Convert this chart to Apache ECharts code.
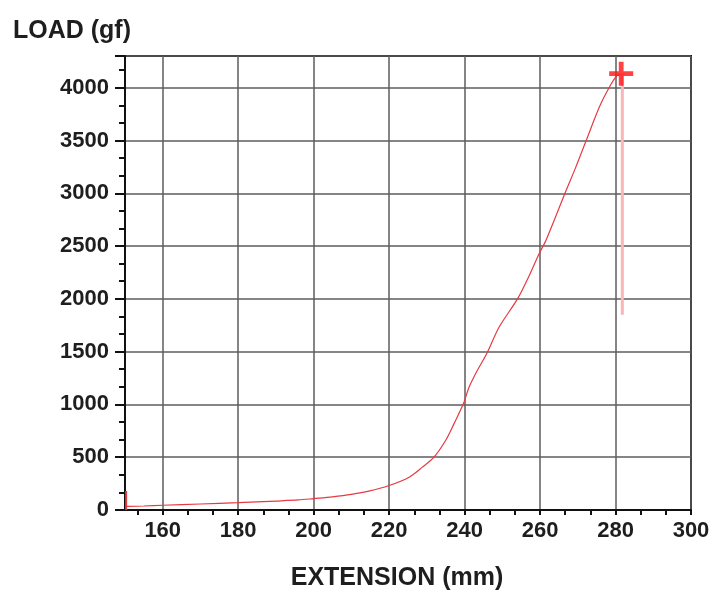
<!DOCTYPE html>
<html>
<head>
<meta charset="utf-8">
<script src="https://cdn.jsdelivr.net/npm/echarts@6/dist/echarts.min.js"></script>
<style>
    html, body { margin: 0; padding: 0; background: #fff; }
    #chart { width: 713px; height: 592px; }
</style>
</head>
<body>
<div id="chart"></div>
<script>
// extension (mm) / load (gf)
var extension = [150.4, 155, 160, 170, 180, 190, 196, 200, 205, 210, 214.6, 220, 225.3, 228.8,
    231.9, 235, 237.2, 239.7, 241.2, 243.4, 245.7, 249.2, 254.1, 257, 259.8, 261.6, 266.5, 269.5,
    272.3, 275.8, 278.5, 280.2, 281.3];
var load = [35, 38, 45, 57, 70, 85, 95, 108, 125, 148, 178, 232, 311, 406,
    501, 660, 818, 1008, 1165, 1324, 1470, 1735, 2004, 2210, 2431, 2558, 2991, 3250,
    3507, 3823, 4013, 4107, 4130];

// start-up spike at the left edge
var spikeExt = [150.3, 150.3];
var spikeLoad = [0, 180];

// break point and the drop after it
var peakExt = [281.5];
var peakLoad = [4133];
var dropExt = [281.8, 281.8];
var dropLoad = [4133, 1850];

var xTicks = [160, 180, 200, 220, 240, 260, 280, 300];
var xMinorTicks = [153.33, 166.67, 173.33, 186.67, 193.33, 206.67, 213.33, 226.67, 233.33,
    246.67, 253.33, 266.67, 273.33, 286.67, 293.33];

function zip(a, b) {
    var out = [];
    for (var i = 0; i < a.length; i++) out.push([a[i], b[i]]);
    return out;
}

var font = 'Liberation Sans, Arial, sans-serif';
var labelStyle = { color: '#1e1e1e', fontSize: 22, fontWeight: 'bold', fontFamily: font };
var gridLine = { show: true, lineStyle: { color: '#5c5c5c', width: 1.5 } };
var plus = 'path://M4,0 L6,0 L6,4 L10,4 L10,6 L6,6 L6,10 L4,10 L4,6 L0,6 L0,4 L4,4 Z';

var option = {
    animation: false,
    grid: {
        left: 125, right: 22, top: 56, bottom: 82,
        show: true, borderColor: '#111', borderWidth: 2
    },
    xAxis: [
        {
            type: 'value', min: 150, max: 300, position: 'bottom',
            axisLine: { lineStyle: { color: '#111', width: 2 } },
            axisTick: { customValues: xTicks, length: 5, lineStyle: { color: '#111', width: 2 } },
            axisLabel: Object.assign({ customValues: xTicks, margin: 10 }, labelStyle),
            splitLine: gridLine
        },
        {
            type: 'value', min: 150, max: 300, position: 'bottom',
            axisLine: { show: false },
            axisTick: { customValues: xMinorTicks, length: 5, lineStyle: { color: '#111', width: 2 } },
            axisLabel: { show: false },
            splitLine: { show: false }
        }
    ],
    yAxis: {
        type: 'value', min: 0, max: 4300, interval: 500,
        axisLine: { show: true, lineStyle: { color: '#111', width: 2 } },
        axisTick: { length: 10, lineStyle: { color: '#111', width: 2 } },
        minorTick: { show: true, splitNumber: 3, length: 6, lineStyle: { color: '#111', width: 2 } },
        axisLabel: Object.assign({
            margin: 16, showMaxLabel: false,
            formatter: function (v) { return String(v); }
        }, labelStyle),
        splitLine: gridLine
    },
    graphic: [
        {
            type: 'text', left: 13, top: 19,
            style: { text: 'LOAD (gf)', fill: '#1e1e1e', font: 'bold 25px ' + font }
        },
        {
            type: 'text', x: 397, y: 578,
            style: {
                text: 'EXTENSION (mm)', fill: '#1e1e1e', font: 'bold 25px ' + font,
                textAlign: 'center', textVerticalAlign: 'middle'
            }
        }
    ],
    series: [
        {
            type: 'line', data: zip(extension, load), showSymbol: false, z: 3,
            smooth: 0.3,
            lineStyle: { color: '#e53a42', width: 1.2 }
        },
        {
            type: 'line', data: zip(spikeExt, spikeLoad), showSymbol: false, z: 4, clip: false,
            lineStyle: { color: '#e53a42', width: 2 }
        },
        {
            type: 'line', data: zip(dropExt, dropLoad), showSymbol: false, z: 2,
            lineStyle: { color: '#f9b6b6', width: 3 }
        },
        {
            type: 'scatter', data: zip(peakExt, peakLoad), symbol: plus, symbolSize: 24, z: 5,
            itemStyle: { color: '#ff1414' }
        }
    ]
};

var chart = echarts.init(document.getElementById('chart'));
chart.setOption(option);
</script>
</body>
</html>
